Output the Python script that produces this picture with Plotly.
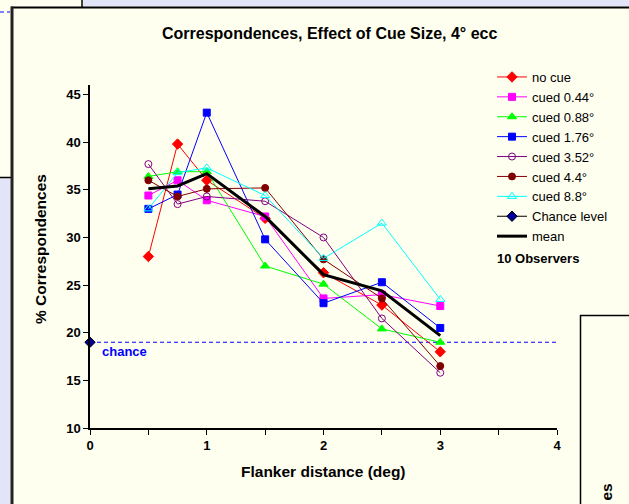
import plotly.graph_objects as go

# ---------------- data ----------------
flanker = [0.5, 0.75, 1, 1.5, 2, 2.5, 3]
no_cue = [28.0, 39.8, 36.0, 32.0, 26.3, 22.9, 18.0]
cued_044 = [34.4, 36.0, 33.9, 32.2, 23.6, 24.0, 22.8]
cued_088 = [36.4, 36.9, 36.9, 27.0, 25.1, 20.4, 19.0]
cued_176 = [33.0, 34.5, 43.1, 29.8, 23.1, 25.3, 20.5]
cued_352 = [37.7, 33.5, 34.3, 33.8, 30.0, 21.5, 15.8]
cued_44 = [36.0, 34.3, 35.1, 35.2, 27.7, 23.6, 16.5]
cued_88 = [33.0, 36.8, 37.3, 34.4, 27.8, 31.5, 23.5]
mean_vals = [35.1, 35.4, 36.7, 32.2, 26.1, 24.4, 19.7]
chance_x = [0]
chance_y = [19.0]
chance_line_x = [0, 4]
chance_line_y = [19.0, 19.0]

x_ticks = [0, 0.5, 1, 1.5, 2, 2.5, 3, 3.5, 4]
x_tick_text = ["0", "", "1", "", "2", "", "3", "", "4"]
y_ticks = [10, 15, 20, 25, 30, 35, 40, 45]

W, H = 629, 504
L, R, T, B = 90, 557, 85, 428
BG = "#FFFFF0"
FONT = "Liberation Sans, Arial, sans-serif"


def px(x):
    return (x - L) / (R - L)


def py(y):
    return (B - y) / (B - T)


fig = go.Figure()

fig.add_trace(go.Scatter(x=chance_line_x, y=chance_line_y, mode="lines",
                         line=dict(color="#0000FF", width=1, dash="4px,3px"),
                         showlegend=False, hoverinfo="skip"))

series = [
    ("no cue", no_cue, "#FF0000", "diamond", 8),
    ("cued 0.44°", cued_044, "#FF00FF", "square", 7),
    ("cued 0.88°", cued_088, "#00FF00", "triangle-up", 8),
    ("cued 1.76°", cued_176, "#0000FF", "square", 7),
    ("cued 3.52°", cued_352, "#800080", "circle-open", 7),
    ("cued 4.4°", cued_44, "#800000", "circle", 7),
    ("cued 8.8°", cued_88, "#00FFFF", "triangle-up-open", 8),
]
for name, vals, col, sym, size in series:
    fig.add_trace(go.Scatter(
        x=flanker, y=vals, name=name, mode="lines+markers",
        line=dict(color=col, width=1),
        marker=dict(symbol=sym, size=size, color=col,
                    line=dict(color=col, width=1)),
    ))

fig.add_trace(go.Scatter(
    x=chance_x, y=chance_y, name="Chance level", mode="lines+markers",
    line=dict(color="#000000", width=1),
    marker=dict(symbol="diamond", size=8, color="#0000A0",
                line=dict(color="#000000", width=1)),
    cliponaxis=False,
))

fig.add_trace(go.Scatter(
    x=flanker, y=mean_vals, name="mean", mode="lines",
    line=dict(color="#000000", width=3),
))

shapes = [
    # background patterns (approximated with a pale blue fill)
    dict(type="rect", xref="paper", yref="paper", x0=px(83), x1=px(640),
         y0=py(-5), y1=py(6.5), fillcolor="#E2E5F8", line=dict(width=0), layer="below"),
    dict(type="rect", xref="paper", yref="paper", x0=px(-5), x1=px(10.5),
         y0=py(178), y1=py(520), fillcolor="#E2E5F8", line=dict(width=0), layer="below"),
    # left-top box edges
    dict(type="line", xref="paper", yref="paper", x0=px(82), x1=px(82),
         y0=py(-5), y1=py(7), line=dict(color="#000000", width=1.5)),
    dict(type="line", xref="paper", yref="paper", x0=px(-5), x1=px(11),
         y0=py(177.5), y1=py(177.5), line=dict(color="#000000", width=1.5)),
    dict(type="line", xref="paper", yref="paper", x0=px(0), x1=px(10),
         y0=py(12), y1=py(12), line=dict(color="#0000FF", width=1, dash="4px,3px")),
    # main chart box
    dict(type="line", xref="paper", yref="paper", x0=px(11), x1=px(640),
         y0=py(7.5), y1=py(7.5), line=dict(color="#000000", width=2)),
    dict(type="line", xref="paper", yref="paper", x0=px(12), x1=px(12),
         y0=py(6.5), y1=py(520), line=dict(color="#222222", width=3)),
    # bottom-right box
    dict(type="line", xref="paper", yref="paper", x0=px(580), x1=px(640),
         y0=py(315.5), y1=py(315.5), line=dict(color="#000000", width=1.5)),
    dict(type="line", xref="paper", yref="paper", x0=px(580.5), x1=px(580.5),
         y0=py(315), y1=py(520), line=dict(color="#000000", width=1.5)),
]

annotations = [
    dict(text="<b>Correspondences, Effect of Cue Size, 4° ecc</b>", xref="paper", yref="paper",
         x=px(329), y=py(33), xanchor="center", yanchor="middle", showarrow=False,
         font=dict(family=FONT, size=16, color="#000000")),
    dict(text="<b>% Correspondences</b>", xref="paper", yref="paper",
         x=px(40), y=py(249), xanchor="center", yanchor="middle", showarrow=False,
         textangle=-90, font=dict(family=FONT, size=15.5, color="#000000")),
    dict(text="<b>Flanker distance (deg)</b>", xref="paper", yref="paper",
         x=px(323), y=py(471), xanchor="center", yanchor="middle", showarrow=False,
         font=dict(family=FONT, size=15.5, color="#000000")),
    dict(text="<b>chance</b>", xref="x", yref="y", x=0.082, y=18.0,
         xanchor="left", yanchor="middle", showarrow=False,
         font=dict(family=FONT, size=13, color="#0000FF")),
    dict(text="<b>10 Observers</b>", xref="paper", yref="paper",
         x=px(495), y=py(258), xanchor="left", yanchor="middle", showarrow=False,
         font=dict(family=FONT, size=13, color="#000000")),
    dict(text="<b>es</b>", xref="paper", yref="paper",
         x=px(606), y=py(482), xanchor="center", yanchor="top", showarrow=False,
         textangle=-90, font=dict(family=FONT, size=15.5, color="#000000")),
]

fig.update_layout(
    width=W, height=H,
    margin=dict(l=L, r=W - R, t=T, b=H - B, pad=0),
    paper_bgcolor=BG, plot_bgcolor=BG,
    font=dict(family=FONT, size=13, color="#000000"),
    showlegend=True,
    legend=dict(x=px(492), y=py(62), xanchor="left", yanchor="top",
                bgcolor="rgba(0,0,0,0)", borderwidth=0,
                font=dict(family=FONT, size=13, color="#000000"),
                itemsizing="trace"),
    shapes=shapes,
    annotations=annotations,
)

fig.update_xaxes(range=[0, 4], tickvals=x_ticks, ticktext=x_tick_text,
                 showgrid=False, zeroline=False, showline=True,
                 linecolor="#000000", linewidth=1.5, ticks="outside",
                 ticklen=5, tickwidth=1, tickcolor="#000000",
                 tickfont=dict(family=FONT, size=13, color="#000000", weight="bold"))
fig.update_yaxes(range=[10, 46], tickvals=y_ticks,
                 showgrid=False, zeroline=False, showline=True,
                 linecolor="#000000", linewidth=1.5, ticks="outside",
                 ticklen=5, tickwidth=1, tickcolor="#000000",
                 tickfont=dict(family=FONT, size=13, color="#000000", weight="bold"))

fig.write_html("out.html")
